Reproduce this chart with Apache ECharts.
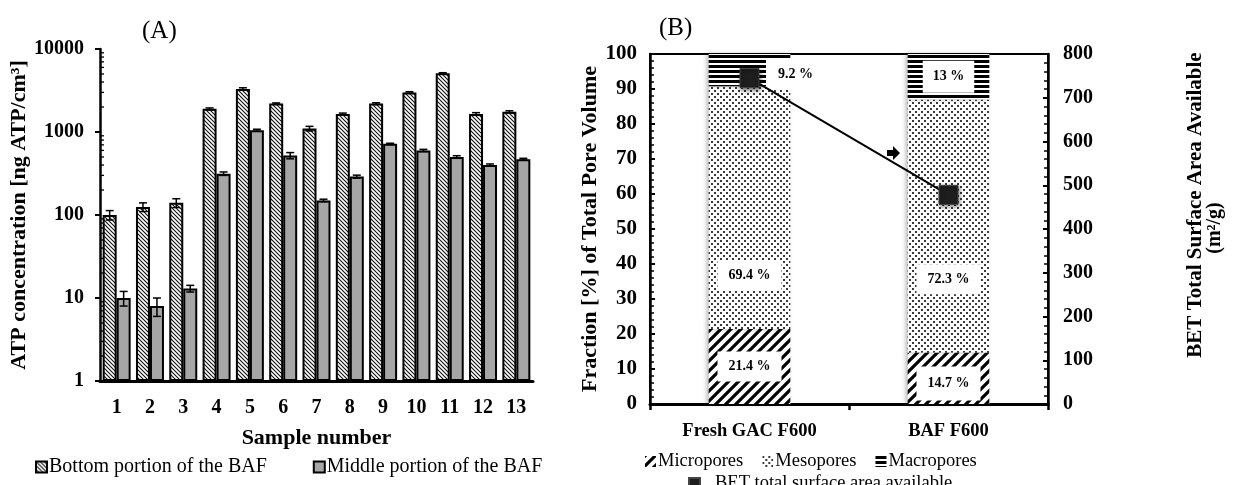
<!DOCTYPE html>
<html>
<head>
<meta charset="utf-8">
<script src="https://cdn.jsdelivr.net/npm/echarts@6/dist/echarts.min.js"></script>
<style>
  html, body { margin: 0; padding: 0; background: #fff; }
  #chart { width: 1233px; height: 485px; }
</style>
</head>
<body>
<div id="chart"></div>
<script>
// ---- Panel A: ATP concentration per sample (log scale) ----
const samples = ['1', '2', '3', '4', '5', '6', '7', '8', '9', '10', '11', '12', '13'];
const bottomATP = [100, 125, 140, 1900, 3300, 2200, 1100, 1650, 2200, 3000, 5100, 1650, 1750];
const bottomErr = [13, 15, 17, 50, 110, 40, 70, 40, 50, 60, 80, 60, 50];
const middleATP = [10, 8, 13, 315, 1050, 520, 150, 290, 720, 600, 500, 400, 470];
const middleErr = [2, 2, 1.2, 15, 30, 45, 5, 12, 12, 18, 18, 12, 12];
const atpDecades = [1, 10, 100, 1000];
const atpMinorSteps = [2, 3, 4, 5, 6, 7, 8, 9];

// ---- Panel B: pore volume fractions and BET surface area ----
const poreCategories = ['Fresh GAC F600', 'BAF F600'];
const microPct = [21.4, 14.7];
const mesoPct = [69.4, 72.3];
const macroPct = [9.2, 13];
const betArea = [745, 478];

const FONT = "'Liberation Serif', 'Times New Roman', serif";

function pattern(w, h, draw) {
  const c = document.createElement('canvas');
  c.width = w; c.height = h;
  const ctx = c.getContext('2d');
  ctx.fillStyle = '#fff';
  ctx.fillRect(0, 0, w, h);
  draw(ctx, w, h);
  return { image: c, repeat: 'repeat' };
}

// fine "\\\" hatching for the bottom-portion bars
const hatchBottom = pattern(4, 4, (ctx) => {
  ctx.strokeStyle = '#111';
  ctx.lineWidth = 1.1;
  ctx.beginPath();
  ctx.moveTo(-1, -1); ctx.lineTo(5, 5);
  ctx.moveTo(-1, 3); ctx.lineTo(1, 5);
  ctx.moveTo(3, -1); ctx.lineTo(5, 1);
  ctx.stroke();
});

// thick "///" stripes for micropores
const microFill = pattern(10, 10, (ctx) => {
  ctx.strokeStyle = '#000';
  ctx.lineWidth = 3.2;
  ctx.beginPath();
  ctx.moveTo(-1, 11); ctx.lineTo(11, -1);
  ctx.moveTo(-6, 6); ctx.lineTo(6, -6);
  ctx.moveTo(4, 16); ctx.lineTo(16, 4);
  ctx.stroke();
});

// stipple for mesopores
const mesoFill = pattern(6, 6, (ctx) => {
  ctx.fillStyle = '#3a3a3a';
  ctx.fillRect(0, 0, 2, 2);
  ctx.fillRect(3, 3, 2, 2);
});

// horizontal stripes for macropores
const macroFill = pattern(4, 5, (ctx) => {
  ctx.fillStyle = '#000';
  ctx.fillRect(0, 0, 4, 3);
});

const chart = echarts.init(document.getElementById('chart'), null, { renderer: 'canvas' });

const boldText = { fontFamily: FONT, fontWeight: 'bold', fontSize: 20, color: '#000' };
const nameText = { fontFamily: FONT, fontWeight: 'bold', fontSize: 22, color: '#000' };

function errorBarSeries(name, values, errs, side) {
  return {
    type: 'custom',
    name: name + ' error',
    xAxisIndex: 0, yAxisIndex: 0,
    silent: true,
    z: 5,
    data: values.map((v, i) => [i, v, errs[i]]),
    renderItem: function (params, api) {
      const i = api.value(0), v = api.value(1), e = api.value(2);
      const band = api.size([1, 1])[0];
      const bw = band * 0.42;
      const x = api.coord([i, v])[0] + side * bw / 2;
      const yHi = api.coord([i, v + e])[1];
      const yLo = api.coord([i, Math.max(v - e, 1e-6)])[1];
      const cap = 4;
      const st = { stroke: '#000', lineWidth: 1.5 };
      return {
        type: 'group',
        children: [
          { type: 'line', shape: { x1: x, y1: yHi, x2: x, y2: yLo }, style: st },
          { type: 'line', shape: { x1: x - cap, y1: yHi, x2: x + cap, y2: yHi }, style: st },
          { type: 'line', shape: { x1: x - cap, y1: yLo, x2: x + cap, y2: yLo }, style: st }
        ]
      };
    }
  };
}

// minor ticks of the log axis at 2..9 of each decade
const minorTickValues = [];
atpDecades.forEach((d) => atpMinorSteps.forEach((m) => minorTickValues.push([0, d * m])));

const minorTickSeries = {
  type: 'custom',
  name: 'log minor ticks',
  xAxisIndex: 0, yAxisIndex: 0,
  silent: true,
  clip: false,
  z: 6,
  data: minorTickValues,
  renderItem: function (params, api) {
    const band = api.size([1, 1])[0];
    const p = api.coord([0, api.value(1)]);
    const x0 = p[0] - band / 2;
    return {
      type: 'line',
      shape: { x1: x0, y1: p[1], x2: x0 + 4, y2: p[1] },
      style: { stroke: '#000', lineWidth: 1.3 }
    };
  }
};

const pctLabel = (extra) => Object.assign({
  show: true,
  fontFamily: FONT, fontWeight: 'bold', fontSize: 14, color: '#000',
  backgroundColor: '#fff',
  padding: [8, 11],
  formatter: (p) => p.value + ' %'
}, extra);

const barShadow = { shadowColor: 'rgba(0,0,0,0.28)', shadowBlur: 4, shadowOffsetX: -2, shadowOffsetY: 0 };

const option = {
  backgroundColor: '#fff',
  animation: false,
  title: [
    { text: '(A)', left: 137, top: 14, textStyle: { fontFamily: FONT, fontWeight: 'normal', fontSize: 25, color: '#000' } },
    { text: '(B)', left: 654, top: 11, textStyle: { fontFamily: FONT, fontWeight: 'normal', fontSize: 25, color: '#000' } }
  ],
  legend: [
    {
      left: 30, top: 452,
      data: ['Bottom portion of the BAF', 'Middle portion of the BAF'],
      itemWidth: 11, itemHeight: 11, itemGap: 46,
      icon: 'rect',
      textStyle: { fontFamily: FONT, fontSize: 20, color: '#000', padding: [0, 0, 0, -3] }
    },
    {
      left: 640, top: 447,
      data: ['Micropores', 'Mesopores', 'Macropores'],
      itemWidth: 11, itemHeight: 11, itemGap: 19,
      icon: 'rect',
      textStyle: { fontFamily: FONT, fontSize: 18.5, color: '#000', padding: [0, 0, 0, -3] }
    },
    {
      left: 683, top: 469,
      data: ['BET total surface area available'],
      itemWidth: 11, itemHeight: 11,
      icon: 'rect',
      textStyle: { fontFamily: FONT, fontSize: 18.5, color: '#000', padding: [0, 0, 0, 10] }
    }
  ],
  grid: [
    { left: 100, right: 700, top: 49, bottom: 104 },
    { left: 650, right: 185, top: 54, bottom: 81, show: true, borderColor: '#000', borderWidth: 2, backgroundColor: 'transparent' }
  ],
  xAxis: [
    {
      gridIndex: 0, type: 'category', data: samples,
      axisLine: { lineStyle: { color: '#000', width: 3 } },
      axisTick: { show: false },
      axisLabel: Object.assign({ margin: 17, interval: 0 }, boldText),
      name: 'Sample number', nameLocation: 'middle', nameGap: 46,
      nameTextStyle: nameText
    },
    {
      gridIndex: 1, type: 'category', data: poreCategories,
      axisLine: { lineStyle: { color: '#000', width: 3 } },
      axisTick: { show: true, length: 6, lineStyle: { color: '#000', width: 2.5 } },
      axisLabel: Object.assign({ margin: 18 }, boldText, { fontSize: 18.5 })
    }
  ],
  yAxis: [
    {
      gridIndex: 0, type: 'log', logBase: 10, min: 1, max: 10000,
      axisLine: { show: true, lineStyle: { color: '#000', width: 2.5 } },
      axisTick: { show: true, length: 5, lineStyle: { color: '#000', width: 2 } },
      splitLine: { show: false },
      axisLabel: Object.assign({ margin: 16, formatter: (v) => String(v) }, boldText),
      name: 'ATP concentration [ng ATP/cm³]', nameLocation: 'middle', nameGap: 49,
      nameTextStyle: nameText
    },
    {
      gridIndex: 1, type: 'value', min: 0, max: 100, interval: 10,
      axisLine: { show: true, lineStyle: { color: '#000', width: 2.5 } },
      axisTick: { show: true, inside: true, length: 5, lineStyle: { color: '#000', width: 2 } },
      minorTick: { show: true, splitNumber: 5, length: 4, lineStyle: { color: '#000', width: 1.5 } },
      splitLine: { show: false },
      axisLabel: Object.assign({ margin: 13 }, boldText, { fontSize: 21 }),
      name: 'Fraction [%] of Total Pore Volume', nameLocation: 'middle', nameGap: 44,
      nameTextStyle: nameText
    },
    {
      gridIndex: 1, type: 'value', position: 'right', min: 0, max: 800, interval: 100,
      axisLine: { show: true, lineStyle: { color: '#000', width: 2.5 } },
      axisTick: { show: true, inside: true, length: 5, lineStyle: { color: '#000', width: 2 } },
      minorTick: { show: true, splitNumber: 5, length: 4, lineStyle: { color: '#000', width: 1.5 } },
      splitLine: { show: false },
      axisLabel: Object.assign({ margin: 15 }, boldText)
    }
  ],
  series: [
    {
      name: 'Bottom portion of the BAF', type: 'bar',
      xAxisIndex: 0, yAxisIndex: 0,
      data: bottomATP, barWidth: '42%', barGap: '0%',
      itemStyle: { color: hatchBottom, borderColor: '#000', borderWidth: 2 }
    },
    {
      name: 'Middle portion of the BAF', type: 'bar',
      xAxisIndex: 0, yAxisIndex: 0,
      data: middleATP, barWidth: '42%', barGap: '0%',
      itemStyle: { color: '#a6a6a6', borderColor: '#000', borderWidth: 2 }
    },
    errorBarSeries('Bottom portion of the BAF', bottomATP, bottomErr, -1),
    errorBarSeries('Middle portion of the BAF', middleATP, middleErr, 1),
    minorTickSeries,
    {
      name: 'Micropores', type: 'bar', stack: 'pore',
      xAxisIndex: 1, yAxisIndex: 1, barWidth: '41%',
      itemStyle: Object.assign({ color: microFill }, barShadow),
      data: [
        { value: microPct[0], label: pctLabel({ position: 'inside' }) },
        { value: microPct[1], label: pctLabel({ position: ['50%', '60%'], align: 'center', verticalAlign: 'middle', padding: [10, 11] }) }
      ]
    },
    {
      name: 'Mesopores', type: 'bar', stack: 'pore',
      xAxisIndex: 1, yAxisIndex: 1, barWidth: '41%',
      itemStyle: Object.assign({ color: mesoFill }, barShadow),
      data: [
        { value: mesoPct[0], label: pctLabel({ position: ['50%', '78%'], align: 'center', verticalAlign: 'middle' }) },
        { value: mesoPct[1], label: pctLabel({ position: ['50%', '71%'], align: 'center', verticalAlign: 'middle' }) }
      ]
    },
    {
      name: 'Macropores', type: 'bar', stack: 'pore',
      xAxisIndex: 1, yAxisIndex: 1, barWidth: '41%',
      itemStyle: Object.assign({ color: macroFill }, barShadow),
      data: [
        { value: macroPct[0], label: pctLabel({ position: 'inside', offset: [46, 4], padding: [8, 12] }) },
        { value: macroPct[1], label: pctLabel({ position: 'inside', padding: [9, 10] }) }
      ]
    },
    {
      name: 'BET total surface area available', type: 'line',
      xAxisIndex: 1, yAxisIndex: 2,
      data: betArea,
      z: 10,
      symbol: 'rect', symbolSize: 19,
      lineStyle: { color: '#000', width: 2 },
      itemStyle: { color: '#1e1e1e', borderColor: '#444', borderWidth: 1, shadowBlur: 4, shadowColor: 'rgba(0,0,0,0.5)', shadowOffsetX: 1, shadowOffsetY: 2 }
    }
  ],
  graphic: [
    {
      // small pointer arrow between the two samples
      type: 'polygon', z: 20,
      shape: { points: [[887, 150], [893, 150], [893, 146], [900, 153], [893, 160], [893, 156], [887, 156]] },
      style: { fill: '#000' }
    },
    {
      // right-axis title, two lines
      type: 'text', x: 1196, y: 205, rotation: Math.PI / 2,
      style: { text: 'BET Total Surface Area Available', fontFamily: FONT, fontWeight: 'bold', fontSize: 21, fill: '#000', align: 'center', verticalAlign: 'middle' }
    },
    {
      type: 'text', x: 1215, y: 228, rotation: Math.PI / 2,
      style: { text: '(m²/g)', fontFamily: FONT, fontWeight: 'bold', fontSize: 20, fill: '#000', align: 'center', verticalAlign: 'middle' }
    }
  ]
};

chart.setOption(option);
</script>
</body>
</html>
